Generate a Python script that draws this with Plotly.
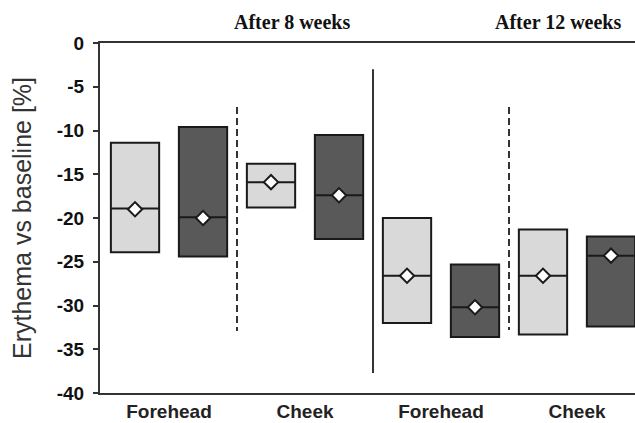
import plotly.graph_objects as go

# Box positions along the category axis (light = first product, dark = second)
light_pos = [0, 2, 4, 6]
dark_pos = [1, 3, 5, 7]

# Light boxes: 8w forehead, 8w cheek, 12w forehead, 12w cheek
light_q3 = [-11.4, -13.8, -20.0, -21.3]
light_q1 = [-23.9, -18.8, -32.0, -33.3]
light_median = [-18.9, -15.9, -26.6, -26.6]
light_mean = [-19.0, -15.9, -26.6, -26.6]

# Dark boxes: 8w forehead, 8w cheek, 12w forehead, 12w cheek
dark_q3 = [-9.6, -10.5, -25.3, -22.1]
dark_q1 = [-24.4, -22.4, -33.6, -32.4]
dark_median = [-19.9, -17.4, -30.2, -24.3]
dark_mean = [-20.0, -17.4, -30.2, -24.3]

site_ticks = [0.5, 2.5, 4.5, 6.5]
site_labels = ["Forehead", "Cheek", "Forehead", "Cheek"]
y_ticks = [0, -5, -10, -15, -20, -25, -30, -35, -40]

fig = go.Figure()

box_w = 0.71
for pos, q1, q3, med, fill in [
    (light_pos, light_q1, light_q3, light_median, "#d9d9d9"),
    (dark_pos, dark_q1, dark_q3, dark_median, "#595959"),
]:
    fig.add_trace(go.Box(
        x=pos, q1=q1, q3=q3, median=med,
        lowerfence=q1, upperfence=q3,
        width=box_w, whiskerwidth=0,
        fillcolor=fill,
        line=dict(color="#1a1a1a", width=2),
        boxpoints=False, showlegend=False, hoverinfo="skip",
    ))

for pos, mean in [(light_pos, light_mean), (dark_pos, dark_mean)]:
    fig.add_trace(go.Scatter(
        x=pos, y=mean, mode="markers",
        marker=dict(symbol="diamond", size=11, color="white",
                    line=dict(color="#1a1a1a", width=2)),
        showlegend=False, hoverinfo="skip",
    ))

# separators between sites (dashed) and between time points (solid)
fig.add_shape(type="line", x0=1.5, x1=1.5, y0=-7.3, y1=-32.9,
              line=dict(color="#333", width=2, dash="7px,4px"))
fig.add_shape(type="line", x0=5.5, x1=5.5, y0=-7.3, y1=-32.8,
              line=dict(color="#333", width=2, dash="7px,4px"))
fig.add_shape(type="line", x0=3.5, x1=3.5, y0=-3.0, y1=-37.7,
              line=dict(color="#333", width=2))

header_font = dict(family="Liberation Serif", size=20, color="#111")
fig.add_annotation(x=2.31, y=1.0, yref="paper", yshift=21, text="<b>After 8 weeks</b>",
                   showarrow=False, font=header_font, yanchor="middle")
fig.add_annotation(x=6.22, y=1.0, yref="paper", yshift=21, text="<b>After 12 weeks</b>",
                   showarrow=False, font=header_font, yanchor="middle")

fig.update_layout(
    width=635, height=423,
    margin=dict(l=100, r=0, t=43, b=30),
    paper_bgcolor="white", plot_bgcolor="white",
    boxmode="overlay",
    xaxis=dict(
        range=[-0.515, 7.353], showgrid=False, zeroline=False,
        showline=True, mirror=True, linecolor="#333", linewidth=2,
        ticks="", tickvals=site_ticks, ticktext=site_labels,
        tickfont=dict(family="Liberation Sans", size=19, color="#222", weight="bold"),
    ),
    yaxis=dict(
        range=[-40, 0], showgrid=False, zeroline=False,
        showline=True, linecolor="#333", linewidth=2,
        ticks="outside", ticklen=5, tickwidth=2, tickcolor="#333",
        tickvals=y_ticks, ticktext=[str(v) for v in y_ticks],
        tickfont=dict(family="Liberation Sans", size=19, color="#111", weight="bold"),
        ticklabelstandoff=5,
        title=dict(text="Erythema vs baseline [%]", standoff=18,
                   font=dict(family="Liberation Sans", size=25, color="#333")),
    ),
)

fig.write_html("out.html")
